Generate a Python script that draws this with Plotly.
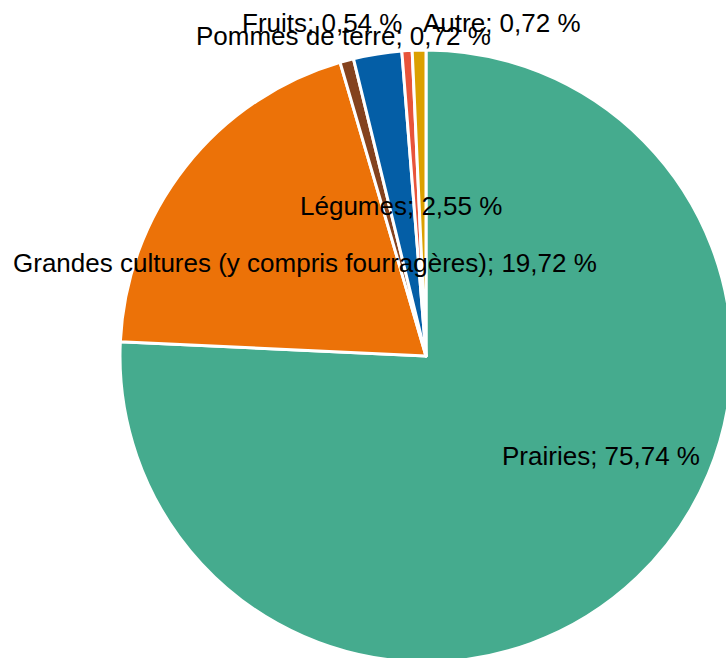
import plotly.graph_objects as go

# data
categories = ["Prairies", "Grandes cultures (y compris fourragères)", "Pommes de terre",
              "Légumes", "Fruits", "Autre"]
shares = [75.74, 19.72, 0.72, 2.55, 0.54, 0.72]
colors = ["#45AB8E", "#EC7208", "#84421E", "#045EA6", "#E8543A", "#DBA000"]

# pixel label centres (as in the original LibreOffice export)
label_pos = [(601, 456), (305, 263), (343, 36), (401, 206), (322, 23), (502, 23)]

W, H = 760, 700          # figure a bit larger than the window: pie is clipped on right/bottom
cx, cy, r = 426, 356, 306

fig = go.Figure(go.Pie(
    labels=categories,
    values=shares,
    sort=False,
    direction="clockwise",
    rotation=0,
    marker=dict(colors=colors, line=dict(color="white", width=3)),
    textinfo="none",
    hoverinfo="label+percent",
    domain=dict(x=[(cx - r) / W, (cx + r) / W], y=[1 - (cy + r) / H, 1 - (cy - r) / H]),
    showlegend=False,
))

for name, val, (px, py) in zip(categories, shares, label_pos):
    txt = f"{name}; {val:.2f} %".replace(".", ",")
    fig.add_annotation(x=px / W, y=1 - py / H, xref="paper", yref="paper",
                       text=txt, showarrow=False, xanchor="center", yanchor="middle",
                       font=dict(family="Liberation Sans", size=26, color="black"))

fig.update_layout(width=W, height=H, margin=dict(l=0, r=0, t=0, b=0),
                  paper_bgcolor="white", plot_bgcolor="white")

fig.write_html("out.html", config={"displayModeBar": False},
               post_script="document.body.style.margin='0';document.body.style.overflow='hidden';")
